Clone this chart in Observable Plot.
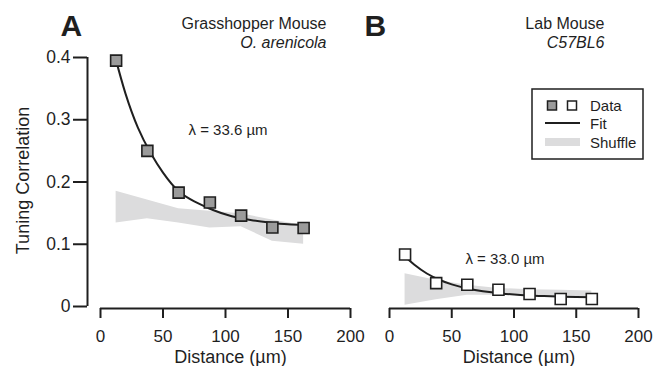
<!DOCTYPE html>
<html>
<head>
<meta charset="utf-8">
<script src="https://cdn.jsdelivr.net/npm/d3@7"></script>
<script src="https://cdn.jsdelivr.net/npm/@observablehq/plot@0.6"></script>
<style>
  body { margin: 0; background: #fff; }
  #wrap { position: relative; width: 666px; height: 366px; font-family: "Liberation Sans", Arial, Helvetica, sans-serif; }
  #wrap > svg, #wrap > div { position: absolute; left: 0; top: 0; }
</style>
</head>
<body>
<div id="wrap"></div>
<script>
// ---- data ----
const distance = [12.5, 37.5, 62.5, 87.5, 112.5, 137.5, 162.5];

const grasshopperCorr = [0.395, 0.250, 0.183, 0.167, 0.146, 0.127, 0.126];
const labCorr         = [0.0835, 0.0375, 0.035, 0.027, 0.020, 0.012, 0.012];

const shuffleUpperA = [0.185, 0.171, 0.157, 0.153, 0.149, 0.139, 0.130];
const shuffleLowerA = [0.134, 0.141, 0.134, 0.126, 0.128, 0.105, 0.100];
const shuffleUpperB = [0.0525, 0.042, 0.034, 0.029, 0.027, 0.026, 0.025];
const shuffleLowerB = [0.002, 0.011, 0.018, 0.018, 0.017, 0.016, 0.015];

const fitDistance = [12, 20, 30, 40, 50, 62.5, 75, 90, 105, 120, 135, 150, 163];
const fitA = [0.399, 0.342, 0.287, 0.247, 0.215, 0.185, 0.169, 0.155, 0.145, 0.139, 0.135, 0.132, 0.131];
const fitB = [0.081, 0.067, 0.053, 0.043, 0.0355, 0.029, 0.0245, 0.021, 0.0185, 0.017, 0.016, 0.0153, 0.015];

const xTicks = [0, 50, 100, 150, 200];
const xTickLabels = ["0", "50", "100", "150", "200"];
const yTicks = [0, 0.1, 0.2, 0.3, 0.4];
const yTickLabels = ["0", "0.1", "0.2", "0.3", "0.4"];

const INK = "#1f1f1f";
const FONT = "'Liberation Sans', Arial, Helvetica, sans-serif";

function panel(cfg) {
  const pts = distance.map((d, i) => ({ d, v: cfg.values[i], lo: cfg.lower[i], hi: cfg.upper[i] }));
  const fitRows = fitDistance.map((d, i) => ({ d, v: cfg.fit[i] }));
  const marks = [
    Plot.areaY(pts, { x: "d", y1: "lo", y2: "hi", fill: "#dcdcdd" }),
    Plot.line(fitRows, { x: "d", y: "v", stroke: INK, strokeWidth: 2, curve: "natural" }),
    Plot.dot(pts, { x: "d", y: "v", symbol: "square", r: 6.2, fill: cfg.markerFill, stroke: INK, strokeWidth: 1.6 }),
    // x axis (offset below the plotting area)
    Plot.ruleY([0], { x1: 0, x2: 200, dy: 2, stroke: INK, strokeWidth: 2 }),
    Plot.axisX({
      ticks: xTicks, tickFormat: d => xTickLabels[xTicks.indexOf(d)],
      tickSize: 10, tickPadding: 11, stroke: INK, fill: INK, strokeWidth: 2, fontSize: 17, label: null
    }),
    Plot.text(["Distance (µm)"], { x: 104, y: -0.082, fontSize: 18, fill: INK }),
    // panel letter and titles
    Plot.text([cfg.letter], { x: cfg.letterX, y: 0.4498, fontSize: 30, fontWeight: "bold", textAnchor: "start", fill: INK }),
    Plot.text([cfg.title], { x: cfg.titleX, y: 0.4546, fontSize: 16, textAnchor: "end", fill: INK }),
    Plot.text([cfg.subtitle], { x: cfg.titleX, y: 0.4233, fontSize: 16, fontStyle: "italic", textAnchor: "end", fill: INK }),
    Plot.text([cfg.lambda], { x: cfg.lambdaX, y: cfg.lambdaY, fontSize: 15, textAnchor: "start", fill: INK })
  ];
  if (cfg.showY) {
    marks.push(
      Plot.ruleX([0], { y1: 0, y2: 0.4, dx: -13, stroke: INK, strokeWidth: 2 }),
      Plot.axisY({
        ticks: yTicks, tickFormat: d => yTickLabels[yTicks.indexOf(d)],
        tickSize: 14, tickPadding: 3, stroke: INK, fill: INK, strokeWidth: 2, fontSize: 17.5, label: null
      }),
      Plot.text(["Tuning Correlation"], { x: -62.2, y: 0.2024, rotate: -90, fontSize: 18, fill: INK })
    );
  }
  return Plot.plot({
    width: 666,
    height: 366,
    marginLeft: cfg.marginLeft,
    marginRight: 0,
    marginTop: 57,
    marginBottom: 58,
    style: { fontFamily: FONT, background: "transparent", overflow: "visible" },
    x: { domain: [0, 200], range: cfg.xRange, axis: null },
    y: { domain: [0, 0.4], range: [306, 57], axis: null },
    marks
  });
}

const wrap = document.getElementById("wrap");

wrap.appendChild(panel({
  values: grasshopperCorr, fit: fitA, upper: shuffleUpperA, lower: shuffleLowerA,
  markerFill: "#9b9b9b", xRange: [100, 350], marginLeft: 87, showY: true,
  letter: "A", letterX: -32, title: "Grasshopper Mouse", subtitle: "O. arenicola", titleX: 180.8,
  lambda: "λ = 33.6 µm", lambdaX: 70.4, lambdaY: 0.2827
}));

wrap.appendChild(panel({
  values: labCorr, fit: fitB, upper: shuffleUpperB, lower: shuffleLowerB,
  markerFill: "#ffffff", xRange: [389, 638], marginLeft: 376, showY: false,
  letter: "B", letterX: -20.1, title: "Lab Mouse", subtitle: "C57BL6", titleX: 172.7,
  lambda: "λ = 33.0 µm", lambdaX: 61, lambdaY: 0.0763
}));

// legend
const legend = document.createElement("div");
legend.innerHTML = `
<svg width="666" height="366" style="position:absolute;left:0;top:0" font-family="${FONT.replace(/'/g, '&quot;')}">
  <rect x="532" y="89" width="111" height="70" fill="white" stroke="${INK}" stroke-width="1.5"/>
  <rect x="547.5" y="101" width="9" height="9" fill="#9b9b9b" stroke="${INK}" stroke-width="1.5"/>
  <rect x="567.5" y="101" width="9" height="9" fill="#ffffff" stroke="${INK}" stroke-width="1.5"/>
  <line x1="545" x2="580" y1="123" y2="123" stroke="${INK}" stroke-width="2"/>
  <rect x="545" y="138" width="35" height="8" fill="#dcdcdd"/>
  <text x="590" y="111" font-size="15" fill="${INK}">Data</text>
  <text x="590" y="128.5" font-size="15" fill="${INK}">Fit</text>
  <text x="590" y="148" font-size="15" fill="${INK}">Shuffle</text>
</svg>`;
wrap.appendChild(legend);
</script>
</body>
</html>
